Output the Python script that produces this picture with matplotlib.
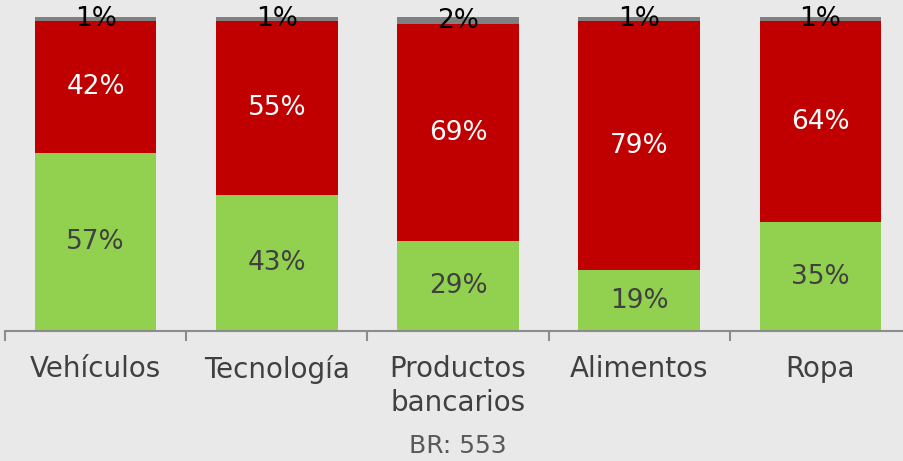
import numpy as np
import matplotlib.pyplot as plt

categories = ['Vehículos', 'Tecnología', 'Productos\nbancarios', 'Alimentos', 'Ropa']
green_vals = [56.7, 43.3, 28.7, 19.4, 34.7]
red_vals = [41.9, 55.3, 69.0, 79.3, 64.0]
gray_vals = [1.4, 1.4, 2.3, 1.3, 1.3]
base_note = 'BR: 553'

bg = '#e9e9e9'
fig = plt.figure(figsize=(9.04, 4.61), dpi=100, facecolor=bg)
ax = fig.add_axes([5/904, 130/461, 906/904, 314/461], facecolor=bg)

x = np.arange(len(categories))
w = 0.67
green = np.array(green_vals)
red = np.array(red_vals)
gray = np.array(gray_vals)

ax.bar(x, green, w, color='#92d050')
ax.bar(x, red, w, bottom=green, color='#c00000')
ax.bar(x, gray, w, bottom=green + red, color='#808080')

for i in range(len(x)):
    ax.text(x[i], green[i] / 2, '%.0f%%' % green[i], ha='center', va='center',
            fontsize=19, color='#404040')
    ax.text(x[i], green[i] + red[i] / 2, '%.0f%%' % red[i], ha='center', va='center',
            fontsize=19, color='white')
    ax.text(x[i], green[i] + red[i] + gray[i] / 2, '%.0f%%' % gray[i], ha='center',
            va='center', fontsize=19, color='black')

ax.set_xlim(-0.5, len(categories) - 0.5)
ax.set_ylim(0, 100)
ax.set_yticks([])
for s in ['left', 'right', 'top']:
    ax.spines[s].set_visible(False)
ax.spines['bottom'].set_color('#8c8c8c')
ax.spines['bottom'].set_linewidth(1.5)

ax.set_xticks(x)
ax.set_xticklabels(categories, fontsize=20, color='#404040', linespacing=1.3)
ax.tick_params(axis='x', which='major', length=0, pad=17)
ax.set_xticks(np.arange(len(categories) + 1) - 0.5, minor=True)
ax.tick_params(axis='x', which='minor', length=7, width=1.5, color='#8c8c8c')

fig.text(458/904, 1 - 446/461, base_note, ha='center', va='center', fontsize=18,
         color='#595959')

fig.savefig('out.png', dpi=100, facecolor=bg)
